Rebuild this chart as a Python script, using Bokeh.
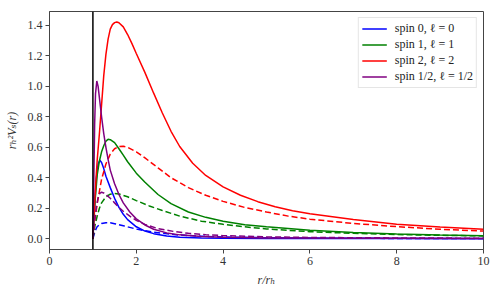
from bokeh.plotting import figure
from bokeh.models import Span, Range1d, FixedTicker, PrintfTickFormatter
from bokeh.embed import file_html
from bokeh.resources import INLINE

# ---- data ----
# spin 0, l = 0
r_s0_solid = [1.0, 1.04, 1.08, 1.12, 1.16, 1.2, 1.25, 1.3, 1.4, 1.5, 1.6, 1.7, 1.8, 2.0, 2.2, 2.4, 2.7, 3.0, 3.5, 4.0, 5.0, 6.0, 8.0, 10.0]
v_s0_solid = [0.0, 0.22, 0.40, 0.49, 0.515, 0.50, 0.46, 0.41, 0.335, 0.265, 0.205, 0.16, 0.125, 0.078, 0.05, 0.033, 0.018, 0.01, 0.005, 0.003, 0.0015, 0.001, 0.0005, 0.0003]
r_s0_dash = [1.0, 1.05, 1.1, 1.2, 1.3, 1.4, 1.5, 1.7, 2.0, 2.4, 2.9, 3.5, 4.0, 5.0, 6.0, 8.0, 10.0]
v_s0_dash = [0.0, 0.05, 0.08, 0.1, 0.105, 0.104, 0.098, 0.085, 0.063, 0.042, 0.026, 0.016, 0.011, 0.0064, 0.0039, 0.0017, 0.0009]

# spin 1, l = 1
r_s1_solid = [1.0, 1.05, 1.1, 1.15, 1.2, 1.25, 1.3, 1.35, 1.4, 1.5, 1.6, 1.7, 1.8, 2.0, 2.2, 2.5, 2.8, 3.2, 3.6, 4.0, 4.5, 5.0, 6.0, 7.0, 8.0, 9.0, 10.0]
v_s1_solid = [0.0, 0.25, 0.42, 0.51, 0.57, 0.61, 0.64, 0.652, 0.65, 0.63, 0.59, 0.548, 0.505, 0.43, 0.37, 0.29, 0.23, 0.175, 0.14, 0.115, 0.092, 0.078, 0.056, 0.04, 0.03, 0.024, 0.02]
r_s1_dash = [1.0, 1.05, 1.1, 1.15, 1.2, 1.3, 1.4, 1.5, 1.6, 1.8, 2.0, 2.3, 2.6, 3.0, 3.5, 4.0, 4.5, 5.0, 6.0, 7.0, 8.0, 9.0, 10.0]
v_s1_dash = [0.0, 0.09, 0.15, 0.2, 0.235, 0.275, 0.292, 0.296, 0.293, 0.275, 0.25, 0.215, 0.185, 0.148, 0.115, 0.094, 0.078, 0.064, 0.046, 0.035, 0.027, 0.022, 0.018]

# spin 2, l = 2
r_s2_solid = [1.0, 1.03, 1.06, 1.1, 1.15, 1.2, 1.25, 1.3, 1.35, 1.4, 1.45, 1.5, 1.55, 1.6, 1.7, 1.8, 1.9, 2.0, 2.2, 2.4, 2.6, 2.8, 3.0, 3.3, 3.6, 4.0, 4.4, 4.8, 5.2, 5.6, 6.0, 7.0, 8.0, 9.0, 10.0]
v_s2_solid = [0.0, 0.18, 0.34, 0.52, 0.69, 0.88, 1.07, 1.21, 1.31, 1.375, 1.405, 1.418, 1.422, 1.417, 1.39, 1.34, 1.28, 1.215, 1.09, 0.955, 0.825, 0.705, 0.605, 0.495, 0.415, 0.34, 0.285, 0.243, 0.21, 0.184, 0.164, 0.126, 0.095, 0.076, 0.062]
r_s2_dash = [1.0, 1.05, 1.1, 1.15, 1.2, 1.3, 1.4, 1.5, 1.6, 1.7, 1.8, 2.0, 2.2, 2.5, 2.8, 3.2, 3.6, 4.0, 4.5, 5.0, 5.5, 6.0, 7.0, 8.0, 9.0, 10.0]
v_s2_dash = [0.0, 0.13, 0.23, 0.31, 0.39, 0.49, 0.555, 0.59, 0.605, 0.607, 0.60, 0.57, 0.53, 0.465, 0.40, 0.335, 0.285, 0.245, 0.205, 0.175, 0.148, 0.128, 0.10, 0.079, 0.062, 0.05]

# spin 1/2, l = 1/2
r_s12_solid = [1.0, 1.02, 1.04, 1.06, 1.09, 1.12, 1.16, 1.2, 1.25, 1.3, 1.35, 1.4, 1.5, 1.6, 1.7, 1.85, 2.0, 2.2, 2.4, 2.7, 3.0, 3.5, 4.0, 5.0, 6.0, 8.0, 10.0]
v_s12_solid = [0.0, 0.35, 0.75, 0.95, 1.035, 1.0, 0.9, 0.80, 0.69, 0.6, 0.52, 0.45, 0.36, 0.29, 0.235, 0.175, 0.13, 0.09, 0.062, 0.038, 0.025, 0.014, 0.009, 0.005, 0.004, 0.003, 0.002]
r_s12_dash = [1.0, 1.04, 1.08, 1.12, 1.16, 1.2, 1.25, 1.3, 1.4, 1.5, 1.6, 1.7, 1.85, 2.0, 2.2, 2.5, 2.85, 3.2, 3.6, 4.0, 5.0, 6.0, 8.0, 10.0]
v_s12_dash = [0.0, 0.12, 0.21, 0.27, 0.298, 0.305, 0.30, 0.29, 0.265, 0.235, 0.205, 0.18, 0.148, 0.12, 0.093, 0.066, 0.048, 0.035, 0.026, 0.02, 0.012, 0.008, 0.005, 0.003]

series_labels = ["spin 0, ℓ = 0", "spin 1, ℓ = 1", "spin 2, ℓ = 2", "spin 1/2, ℓ = 1/2"]
series_colors = ["blue", "green", "red", "purple"]
x_ticks = [0, 2, 4, 6, 8, 10]
y_ticks = [0.0, 0.2, 0.4, 0.6, 0.8, 1.0, 1.2, 1.4]

FONT = "'Liberation Serif', 'DejaVu Serif', serif"

p = figure(width=500, height=294, output_backend="svg", toolbar_location=None,
           x_range=Range1d(0, 10), y_range=Range1d(-0.071, 1.491),
           min_border_left=49, min_border_right=17, min_border_top=11, min_border_bottom=45)
p.grid.visible = False
p.outline_line_color = "#444444"
p.outline_line_width = 1
p.background_fill_color = "white"

for ax in (p.xaxis[0], p.yaxis[0]):
    ax.axis_line_color = "#444444"
    ax.major_tick_line_color = "#444444"
    ax.minor_tick_line_color = None
    ax.major_tick_in = 0
    ax.major_tick_out = 4
    ax.major_label_text_font = FONT
    ax.major_label_text_font_size = "12px"
    ax.major_label_text_color = "#333333"
    ax.axis_label_text_font = FONT
    ax.axis_label_text_font_size = "12px"
    ax.axis_label_text_font_style = "italic"
    ax.axis_label_text_color = "#333333"
    ax.major_label_standoff = 3

p.xaxis.ticker = FixedTicker(ticks=x_ticks)
p.yaxis.ticker = FixedTicker(ticks=y_ticks)
p.yaxis.formatter = PrintfTickFormatter(format="%.1f")
p.xaxis.axis_label = "r/rₕ"
p.yaxis.axis_label = "rₕ²Vₛ(r)"
p.xaxis.axis_label_standoff = 5
p.yaxis.axis_label_standoff = 6

p.add_layout(Span(location=1.0, dimension="height", line_color="black", line_width=1.5))

solid = [(r_s0_solid, v_s0_solid), (r_s1_solid, v_s1_solid), (r_s2_solid, v_s2_solid), (r_s12_solid, v_s12_solid)]
dash = [(r_s0_dash, v_s0_dash), (r_s1_dash, v_s1_dash), (r_s2_dash, v_s2_dash), (r_s12_dash, v_s12_dash)]

for (rs, vs), (rd, vd), lab, col in zip(solid, dash, series_labels, series_colors):
    p.line(rs, vs, line_color=col, line_width=1.5, legend_label=lab)
    p.line(rd, vd, line_color=col, line_width=1.5, line_dash="6 3")

lg = p.legend[0]
lg.location = "top_right"
lg.margin = 6
lg.padding = 3
lg.spacing = 1
lg.glyph_width = 25
lg.glyph_height = 15
lg.label_height = 15
lg.label_standoff = 8
lg.label_text_font = FONT
lg.label_text_font_size = "12px"
lg.label_text_color = "#222222"
lg.border_line_color = "#cccccc"
lg.border_line_width = 1
lg.background_fill_alpha = 0.85

open("out.html", "w").write(file_html(p, INLINE))
